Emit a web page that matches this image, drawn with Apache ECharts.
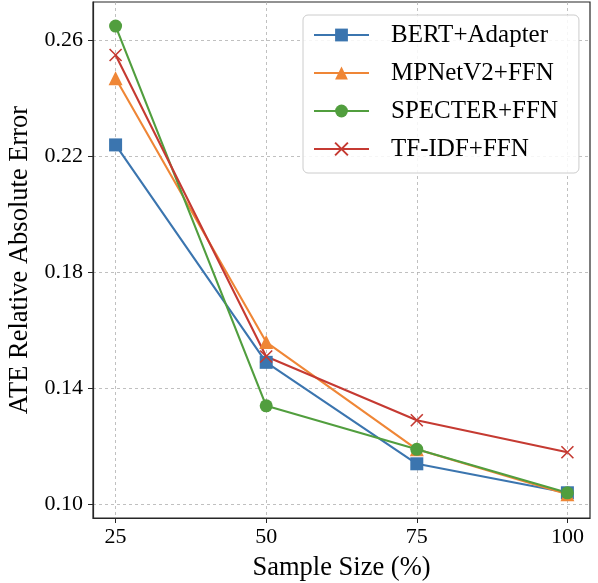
<!DOCTYPE html>
<html><head><meta charset="utf-8">
<script src="https://cdn.jsdelivr.net/npm/echarts@6/dist/echarts.min.js"></script>
<style>html,body{margin:0;padding:0;background:#fff}#c{width:598px;height:583px}</style>
</head><body><div id="c"></div>
<script>
const sampleSizes = [25, 50, 75, 100];
const bertAdapter = [0.224, 0.149, 0.114, 0.104];
const mpnetFfn = [0.247, 0.156, 0.119, 0.1035];
const specterFfn = [0.265, 0.134, 0.119, 0.104];
const tfidfFfn = [0.255, 0.151, 0.129, 0.118];
const yTicks = [0.10, 0.14, 0.18, 0.22, 0.26];
const xTicks = [25, 50, 75, 100];

const seriesDefs = [
  {name: 'BERT+Adapter', data: bertAdapter, color: '#3b75af', symbol: 'rect', size: 13},
  {name: 'MPNetV2+FFN', data: mpnetFfn, color: '#ef8636', symbol: 'triangle', size: 14},
  {name: 'SPECTER+FFN', data: specterFfn, color: '#519e3e', symbol: 'circle', size: 13},
  {name: 'TF-IDF+FFN', data: tfidfFfn, color: '#c53a32', symbol: 'path://M0,0L10,10M10,0L0,10', size: 12}
];

const font = 'Liberation Serif';
const chart = echarts.init(document.getElementById('c'), null, {renderer: 'canvas'});
const gridLine = {show: true, lineStyle: {color: '#b0b0b0', type: [3, 3], width: 0.8}};
chart.setOption({
  animation: false,
  backgroundColor: '#fff',
  textStyle: {fontFamily: font},
  grid: {left: 93, top: 2, right: 8, bottom: 65, containLabel: false, outerBoundsMode: 'none',
    show: true, borderColor: '#262626', borderWidth: 1.2, backgroundColor: 'transparent'},
  xAxis: {
    type: 'value', min: 21.25, max: 103.75,
    name: 'Sample Size (%)', nameLocation: 'middle', nameGap: 37,
    nameTextStyle: {fontFamily: font, fontSize: 26.5, color: '#000'},
    axisLine: {show: true, onZero: false, lineStyle: {color: '#262626', width: 1.2}},
    axisTick: {show: true, length: 5, customValues: xTicks, lineStyle: {color: '#262626'}},
    axisLabel: {customValues: xTicks, fontFamily: font, fontSize: 22, color: '#000', margin: 8},
    splitLine: gridLine
  },
  yAxis: {
    type: 'value', min: 0.0953, max: 0.2733,
    name: 'ATE Relative Absolute Error', nameLocation: 'middle', nameGap: 59,
    nameTextStyle: {fontFamily: font, fontSize: 26.5, color: '#000'},
    axisLine: {show: true, onZero: false, lineStyle: {color: '#262626', width: 1.2}},
    axisTick: {show: true, length: 5, customValues: yTicks, lineStyle: {color: '#262626'}},
    axisLabel: {customValues: yTicks, fontFamily: font, fontSize: 22, color: '#000', margin: 10,
      formatter: v => v.toFixed(2)},
    splitLine: gridLine
  },
  legend: {
    orient: 'vertical', left: 303, top: 15,
    padding: [7, 21, 11, 10],
    itemWidth: 55, itemHeight: 16, itemGap: 12,
    backgroundColor: 'rgba(255,255,255,0.85)', borderColor: '#cccccc', borderWidth: 1, borderRadius: 5,
    textStyle: {fontFamily: font, fontSize: 25, color: '#000', lineHeight: 26, padding: [0, 0, 0, 17]},
    data: seriesDefs.map(s => s.name)
  },
  series: seriesDefs.map(s => ({
    name: s.name, type: 'line',
    data: sampleSizes.map((x, i) => [x, s.data[i]]),
    symbol: s.symbol, symbolSize: s.size, showSymbol: true,
    lineStyle: {color: s.color, width: 2.1},
    itemStyle: {color: s.color, borderColor: s.color, borderWidth: s.symbol.startsWith('path') ? 1.6 : 0},
    emphasis: {disabled: true}
  }))
});
</script></body></html>
